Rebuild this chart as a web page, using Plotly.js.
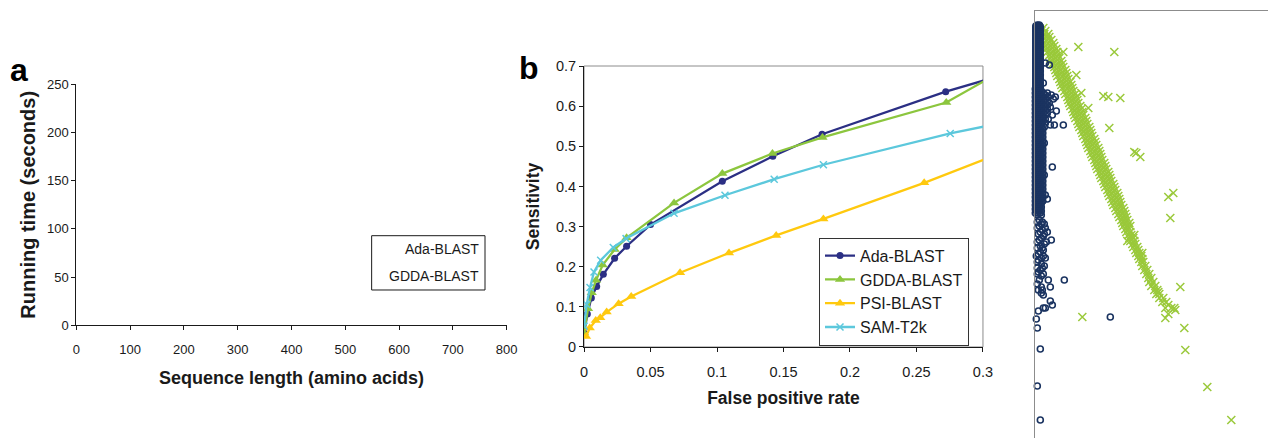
<!DOCTYPE html>
<html>
<head>
<meta charset="utf-8">
<script src="https://cdn.plot.ly/plotly-3.0.1.min.js"></script>
<style>
html,body{margin:0;padding:0;background:#fff;}
#chart{width:1268px;height:438px;}
</style>
</head>
<body>
<div id="chart"></div>
<script>
// ---------- Panel a: running time vs sequence length (no visible data) ----------
const seqLengthTicks = [0, 100, 200, 300, 400, 500, 600, 700, 800];
const runningTimeTicks = [0, 50, 100, 150, 200, 250];
const panelASeries = ["Ada-BLAST", "GDDA-BLAST"];

// ---------- Panel b: ROC-like curves ----------
const fprTicks = [0, 0.05, 0.1, 0.15, 0.2, 0.25, 0.3];
const sensTicks = [0, 0.1, 0.2, 0.3, 0.4, 0.5, 0.6, 0.7];

const adaFpr  = [0, 0.0025, 0.0055, 0.0095, 0.0145, 0.023, 0.032, 0.050, 0.104, 0.142, 0.179, 0.272, 0.305];
const adaSens = [0.035, 0.082, 0.122, 0.151, 0.181, 0.221, 0.251, 0.305, 0.413, 0.475, 0.530, 0.636, 0.668];

const gddaFpr  = [0, 0.003, 0.0058, 0.009, 0.014, 0.023, 0.032, 0.0677, 0.104, 0.1417, 0.1793, 0.2724, 0.305];
const gddaSens = [0.035, 0.095, 0.135, 0.166, 0.204, 0.243, 0.272, 0.359, 0.432, 0.482, 0.522, 0.609, 0.670];

const psiFpr  = [0.0015, 0.0043, 0.0088, 0.0122, 0.017, 0.026, 0.0355, 0.0722, 0.109, 0.1445, 0.180, 0.2558, 0.305];
const psiSens = [0.026, 0.047, 0.066, 0.073, 0.087, 0.108, 0.126, 0.185, 0.234, 0.278, 0.319, 0.409, 0.472];

const samFpr  = [0, 0.002, 0.0045, 0.0075, 0.0125, 0.022, 0.0316, 0.0677, 0.106, 0.143, 0.180, 0.2754, 0.305];
const samSens = [0.052, 0.106, 0.148, 0.187, 0.216, 0.248, 0.270, 0.333, 0.378, 0.418, 0.454, 0.532, 0.552];

// ---------- Panel c: scatter (cropped, unlabeled axes) ----------
const circleX = [
 2,4, 1,3,5, 2,4, 1,3,5, 2,4, 1,3,5, 2,4, 1,3,5,
 2,4, 1,3,5, 2,4, 1,3,5, 2,4, 1,3,5, 2,4, 1,3,5,
 2,4, 1,3,5, 2,4, 1,3,5,10, 2,4,14, 1,3,5, 2,4, 1,3,5,
 2,4, 1,3,5, 2,4, 1,3,5, 2,4, 1,3,5,8, 2,4, 1,3,5,
 0.5,2.5,4.5, 0.5,2.5,4.5, 0.5,2.5,4.5, 0.5,2.5,4.5, 0.5,2.5,4.5, 0.5,2.5,4.5, 0.5,2.5,4.5, 0.5,2.5,4.5,
 0.5,2.5,4.5, 0.5,2.5,4.5, 0.5,2.5,4.5, 0.5,2.5,4.5, 0.5,2.5,4.5, 0.5,2.5,4.5, 0.5,2.5,4.5, 0.5,2.5,4.5,
 0.5,2.5,4.5, 0.5,2.5,4.5, 0.5,2.5,4.5, 0.5,2.5,4.5, 0.5,2.5,4.5, 0.5,2.5,4.5, 0.5,2.5,4.5, 0.5,2.5,4.5,
 0.5,2.5,4.5, 0.5,2.5,4.5, 0.5,2.5,4.5, 0.5,2.5,4.5, 0.5,2.5,4.5, 0.5,2.5,4.5, 0.5,2.5,4.5,
 0,2.5,5, 1,3.5,6, 0,2.5,5,8,12, 1,3.5,6,10,16, 0,2.5,5,8,13,20, 1,3.5,6,10,18,
 0,2.5,5,8,12, 1,3.5,6,10,14, 0,2.5,5,8,12, 1,3.5,6,10,15, 0,2.5,5,8,12, 1,3.5,6,10,21,
 0,2.5,5,8,12, 1,3.5,6,10,17, 0,2.5,5,8, 1,3.5,6,10,13, 0,2.5,5,8, 1,3.5,6,10,
 0,2.5,5,15,19,28, 1,3.5,6,9, 0,2.5,5,7.5, 1,3.5,6, 0,2.5,5,7.5, 1,3.5,6,
 0,2.5,5,7.5, 1,3.5,6, 0,2.5,5,7.5, 1,3.5,6,9, 0,2.5,5,7.5, 1,3.5,6,
 0,2.5,5,7.5, 1,3.5,6, 0,2.5,5,7.5, 1,3.5,6, 0,2.5,5,7.5, 1,3.5,6,
 0,2.5,5,7.5, 1,3.5,6, 0,2.5,5,7.5, 1,3.5,6,17, 0,2.5,5,7.5, 1,3.5,6,
 0,2.5,5,7.5, 1,3.5,6,9, 0,2.5,5,7.5, 1,3.5,6, 0,2.5,5,7.5, 1,3.5,6,
 0,2.5,5,7.5, 1,3.5,6, 0,2.5,5,7.5, 1,3.5,6, 0,2.5,5,7.5, 1,3.5,6,10,
 0,2.5,5,7.5, 1,3.5,6,12, 0,2.5,5,7.5, 1,3.5,6, 0,2.5,5, 1,3.5,6,
 0,2.5,5, 1,3.5,6, 0,2.5,5, 2,6,
 4, 2,7, 6,9, 4, 2,10, 7, 5,12, 3,9, 8, 6, 4,16, 2,11, 9, 5, 2,7, 8, 5, 3,
 1,8, 6,10, 3, 2, 6, 9, 2,7, 5, 3, 2,8, 6,
 4,13,29, 2, 6,15, 3,7, 6, 8, 15, 17, 8,10, 3, 75, 1, 2, 5, 2, 5
];
const circleY = [
 413,413, 411,411,411, 409,409, 407,407,407, 405,405, 403,403,403, 401,401, 399,399,399,
 397,397, 395,395,395, 393,393, 391,391,391, 389,389, 387,387,387, 385,385, 383,383,383,
 381,381, 379,379,379, 377,377, 375,375,375,375, 373,373,373, 371,371,371, 369,369, 367,367,367,
 365,365, 363,363,363, 361,361, 359,359,359, 357,357, 355,355,355,355, 353,353, 351,351,351,
 412,412,412, 410,410,410, 408,408,408, 406,406,406, 404,404,404, 402,402,402, 400,400,400, 398,398,398,
 396,396,396, 394,394,394, 392,392,392, 390,390,390, 388,388,388, 386,386,386, 384,384,384, 382,382,382,
 380,380,380, 378,378,378, 376,376,376, 374,374,374, 372,372,372, 370,370,370, 368,368,368, 366,366,366,
 364,364,364, 362,362,362, 360,360,360, 358,358,358, 356,356,356, 354,354,354, 352,352,352,
 349,349,349, 347,347,347, 345,345,345,345,345, 343,343,343,343,343, 341,341,341,341,341,341, 339,339,339,339,339,
 337,337,337,337,337, 335,335,335,335,335, 333,333,333,333,333, 331,331,331,331,331, 329,329,329,329,329, 327,327,327,327,327,
 325,325,325,325,325, 323,323,323,323,323, 321,321,321,321, 319,319,319,319,319, 317,317,317,317, 315,315,315,315,
 313,313,313,313,313,313, 311,311,311,311, 309,309,309,309, 307,307,307, 305,305,305,305, 303,303,303,
 301,301,301,301, 299,299,299, 297,297,297,297, 295,295,295,295, 293,293,293,293, 291,291,291,
 289,289,289,289, 287,287,287, 285,285,285,285, 283,283,283, 281,281,281,281, 279,279,279,
 277,277,277,277, 275,275,275, 273,273,273,273, 271,271,271,271, 269,269,269,269, 267,267,267,
 265,265,265,265, 263,263,263,263, 261,261,261,261, 259,259,259, 257,257,257,257, 255,255,255,
 253,253,253,253, 251,251,251, 249,249,249,249, 247,247,247, 245,245,245,245, 243,243,243,243,
 241,241,241,241, 239,239,239,239, 237,237,237,237, 235,235,235, 233,233,233, 231,231,231,
 229,229,229, 227,227,227, 225,225,225, 223,223,
 218, 216,216, 214,214, 212, 210,210, 208, 206,206, 204,204, 202, 200, 198,198, 196,196, 194, 192, 190,190, 188, 186, 184,
 182,182, 180,180, 178, 176, 174, 172, 170,170, 168, 166, 164,164, 162,
 158,158,158, 154, 151,151, 148,148, 145, 143, 137, 133, 130,130, 127, 121, 119, 110, 89, 52, 18
];

const crossX = [
 4,8, 6,10, 5,9,13, 7,11,14, 7,12,16, 8,13,18, 10,15,19, 11,16,21, 12,17,22, 14,18,23, 15,20,24, 16,21,26, 17,22,27, 19,23,28,
 20,25,30, 21,26,31, 22,27,32, 24,29,33, 25,30,35, 26,31,36, 27,32,37, 29,34,38, 30,35,40, 32,36,41, 33,37,42, 34,39,43, 35,40,45,
 37,41,46, 38,42,47, 39,44,48, 40,45,50, 42,46,51, 43,48,52, 44,49,54, 46,50,55, 47,51,56, 48,53,57, 50,54,59, 51,55,60, 52,57,61,
 53,58,63, 55,59,64, 56,61,65, 57,62,66, 59,63,67, 60,64,69, 61,66,70, 62,67,71, 64,68,73, 65,70,74, 66,71,75, 68,72,76, 69,73,78,
 70,75,79, 72,76,80, 73,77,82, 74,79,83, 76,80,84, 77,81,85, 78,83,86, 80,84,88, 81,85,89, 83,87,90, 84,88,91, 86,89,92, 87,90,94,
 88,92,95, 90,93, 91,95, 93,96,99, 94,98, 95,99, 97,100, 98,102, 100,103, 101,104,107, 103,106, 104,107, 106,108, 107,110, 109,112,
 111,114, 113,116, 114,118, 116,120, 119,122, 121,124, 124,128, 127,131, 133, 130,136,139, 140, 133, 130,
 43, 79, 41, 46, 68, 73, 85, 53, 74, 28, 99, 105, 101, 133, 138, 135, 92, 145, 123, 47, 149, 150, 172, 196
];
const crossY = [
 410,410, 407,407, 404,404,404, 401,401,401, 398,398,398, 395,395,395, 392,392,392, 389,389,389, 386,386,386, 383,383,383, 380,380,380, 377,377,377, 374,374,374, 371,371,371,
 368,368,368, 365,365,365, 362,362,362, 359,359,359, 356,356,356, 353,353,353, 350,350,350, 347,347,347, 344,344,344, 341,341,341, 338,338,338, 335,335,335, 332,332,332,
 329,329,329, 326,326,326, 323,323,323, 320,320,320, 317,317,317, 314,314,314, 311,311,311, 308,308,308, 305,305,305, 302,302,302, 299,299,299, 296,296,296, 293,293,293,
 290,290,290, 287,287,287, 284,284,284, 281,281,281, 278,278,278, 275,275,275, 272,272,272, 269,269,269, 266,266,266, 263,263,263, 260,260,260, 257,257,257, 254,254,254,
 251,251,251, 248,248,248, 245,245,245, 242,242,242, 239,239,239, 236,236,236, 233,233,233, 230,230,230, 227,227,227, 224,224,224, 221,221,221, 218,218,218, 215,215,215,
 212,212,212, 209,209, 206,206, 203,203,203, 200,200, 197,197, 194,194, 191,191, 188,188, 185,185,185, 182,182, 179,179, 176,176, 172,172, 168,168,
 164,164, 160,160, 156,156, 152,152, 148,148, 144,144, 140,140, 136,136, 133, 130,130,130, 128, 124, 120,
 391, 386, 363, 345, 342, 341, 340, 330, 310, 386, 286, 281, 285, 241, 245, 220, 197, 151, 146, 121, 110, 88, 51, 18
];

const FONT = "Liberation Sans, Arial, sans-serif";
const dark = "#1a1a1a";

const traces = [
  // panel a (series present, nothing plotted)
  {x: [], y: [], name: panelASeries[0], type: "scatter", mode: "lines", xaxis: "x", yaxis: "y", showlegend: false},
  {x: [], y: [], name: panelASeries[1], type: "scatter", mode: "lines", xaxis: "x", yaxis: "y", showlegend: false},
  // panel b
  {x: adaFpr, y: adaSens, name: "Ada-BLAST", type: "scatter", mode: "lines+markers", xaxis: "x2", yaxis: "y2",
   line: {color: "#2b2f84", width: 2.3}, marker: {symbol: "circle", size: 7, color: "#2b2f84"}},
  {x: gddaFpr, y: gddaSens, name: "GDDA-BLAST", type: "scatter", mode: "lines+markers", xaxis: "x2", yaxis: "y2",
   line: {color: "#8cc63e", width: 2.3}, marker: {symbol: "triangle-up", size: 9, color: "#8cc63e"}},
  {x: psiFpr, y: psiSens, name: "PSI-BLAST", type: "scatter", mode: "lines+markers", xaxis: "x2", yaxis: "y2",
   line: {color: "#ffc90e", width: 2.3}, marker: {symbol: "triangle-up", size: 9, color: "#ffc90e"}},
  {x: samFpr, y: samSens, name: "SAM-T2k", type: "scatter", mode: "lines+markers", xaxis: "x2", yaxis: "y2",
   line: {color: "#5cc8dc", width: 2.3}, marker: {symbol: "x-thin-open", size: 7, color: "#5cc8dc", line: {color: "#5cc8dc", width: 1.5}}},
  // panel c
  {x: crossX, y: crossY, name: "GDDA-BLAST scores", type: "scatter", mode: "markers", xaxis: "x3", yaxis: "y3", showlegend: false,
   cliponaxis: false, marker: {symbol: "x-thin-open", size: 8, color: "#9ac93a", line: {color: "#9ac93a", width: 1.5}}},
  {x: circleX, y: circleY, name: "Ada-BLAST scores", type: "scatter", mode: "markers", xaxis: "x3", yaxis: "y3", showlegend: false,
   cliponaxis: false, marker: {symbol: "circle-open", size: 6, color: "#1b3461", line: {color: "#1b3461", width: 1.6}}}
];

const baseAxis = {
  showgrid: false, zeroline: false, showline: true, linecolor: dark, linewidth: 1,
  ticks: "outside", ticklen: 4, tickcolor: dark, tickwidth: 1, automargin: false
};

const layout = {
  width: 1268, height: 438,
  margin: {l: 0, r: 0, t: 0, b: 0},
  paper_bgcolor: "#fff", plot_bgcolor: "#fff",
  font: {family: FONT, color: dark},
  showlegend: true,
  xaxis: Object.assign({}, baseAxis, {
    domain: [0.0602, 0.3996], anchor: "y", range: [0, 800],
    tickmode: "array", tickvals: seqLengthTicks, ticklabelstandoff: 8,
    tickfont: {size: 13, family: FONT, color: dark},
    title: {text: "<b>Sequence length (amino acids)</b>", font: {size: 18, family: FONT, color: dark}, standoff: 15}
  }),
  yaxis: Object.assign({}, baseAxis, {
    domain: [0.2573, 0.8075], anchor: "x", range: [0, 250],
    tickmode: "array", tickvals: runningTimeTicks,
    tickfont: {size: 13, family: FONT, color: dark},
    title: {text: "<b>Running time (seconds)</b>", font: {size: 20, family: FONT, color: dark}, standoff: 6}
  }),
  xaxis2: Object.assign({}, baseAxis, {
    domain: [0.4606, 0.7752], anchor: "y2", range: [0, 0.3],
    tickmode: "array", tickvals: fprTicks, ticklabelstandoff: 8,
    tickfont: {size: 14.5, family: FONT, color: dark},
    title: {text: "<b>False positive rate</b>", font: {size: 17.5, family: FONT, color: dark}, standoff: 12}
  }),
  yaxis2: Object.assign({}, baseAxis, {
    domain: [0.2078, 0.8493], anchor: "x2", range: [0, 0.7],
    tickmode: "array", tickvals: sensTicks,
    tickfont: {size: 14.5, family: FONT, color: dark},
    title: {text: "<b>Sensitivity</b>", font: {size: 17.5, family: FONT, color: dark}, standoff: 11}
  }),
  xaxis3: {
    domain: [0.8165, 1], anchor: "y3", side: "top", range: [0, 232.7],
    showgrid: false, zeroline: false, showline: true, linecolor: "#8c8c8c", linewidth: 1.2,
    ticks: "", showticklabels: false
  },
  yaxis3: {
    domain: [0, 0.9749], anchor: "x3", range: [0, 427],
    showgrid: false, zeroline: false, showline: true, linecolor: "#8c8c8c", linewidth: 1.2,
    ticks: "", showticklabels: false
  },
  legend: {
    x: 0.6459, y: 0.4573, xanchor: "left", yanchor: "top",
    bgcolor: "#fff", bordercolor: "#333", borderwidth: 1,
    font: {size: 16, family: FONT, color: dark}, tracegroupgap: 0
  },
  shapes: [
    {type: "rect", xref: "x2 domain", yref: "y2 domain", x0: 0, x1: 1, y0: 0, y1: 1,
     line: {color: "#8c8c8c", width: 1}, layer: "below"},
    {type: "rect", xref: "paper", yref: "paper", x0: 0.2931, x1: 0.3825, y0: 0.3379, y1: 0.4619,
     line: {color: dark, width: 1}, fillcolor: "rgba(0,0,0,0)"}
  ],
  annotations: [
    {text: "<b>a</b>", xref: "paper", yref: "paper", x: 0.0063, y: 0.8402, xanchor: "left", yanchor: "middle",
     showarrow: false, font: {size: 32, family: FONT, color: "#000"}},
    {text: "<b>b</b>", xref: "paper", yref: "paper", x: 0.4077, y: 0.8447, xanchor: "left", yanchor: "middle",
     showarrow: false, font: {size: 32, family: FONT, color: "#000"}},
    {text: panelASeries[0], xref: "paper", yref: "paper", x: 0.3790, y: 0.4308, xanchor: "right", yanchor: "middle",
     showarrow: false, font: {size: 14, family: FONT, color: dark}},
    {text: panelASeries[1], xref: "paper", yref: "paper", x: 0.3796, y: 0.3699, xanchor: "right", yanchor: "middle",
     showarrow: false, font: {size: 14, family: FONT, color: dark}}
  ]
};

Plotly.newPlot("chart", traces, layout, {staticPlot: true, displayModeBar: false});
</script>
</body>
</html>
